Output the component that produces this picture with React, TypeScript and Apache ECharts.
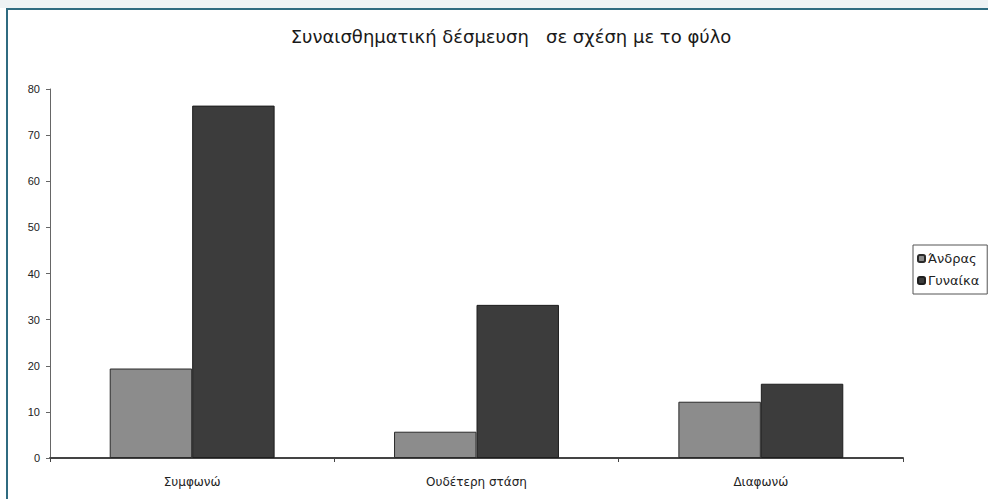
import React, { useEffect, useRef } from "react";
import * as echarts from "echarts";

const title = "Συναισθηματική δέσμευση   σε σχέση με το φύλο";
const categories = ["Συμφωνώ", "Ουδέτερη στάση", "Διαφωνώ"];
const seriesNames = ["Άνδρας", "Γυναίκα"];
const men = [19.4, 5.7, 12.2];
const women = [76.4, 33.2, 16.1];
const yTicks = { min: 0, max: 80, interval: 10 };

const FONT = "'Liberation Sans', Arial, sans-serif";
const WIDE = "'DejaVu Sans', sans-serif";

export default function App() {
  const ref = useRef<HTMLDivElement>(null);

  useEffect(() => {
    if (!ref.current) return;
    const chart = echarts.init(ref.current, null, { renderer: "svg" });
    chart.setOption({
      animation: false,
      backgroundColor: "#ffffff",
      textStyle: { fontFamily: FONT },
      title: {
        text: title,
        left: 506,
        top: 22,
        textAlign: "center",
        textStyle: { fontSize: 18, fontWeight: "normal", color: "#1a1a1a", fontFamily: WIDE },
      },
      graphic: [
        // strip above the frame
        { type: "rect", shape: { x: 0, y: 0, width: 988, height: 8 }, style: { fill: "#eef2f4" }, silent: true },
        // frame top and left edges
        { type: "rect", shape: { x: 6, y: 8, width: 982, height: 2 }, style: { fill: "#2f6b80" }, silent: true },
        { type: "rect", shape: { x: 6, y: 8, width: 2, height: 491 }, style: { fill: "#2f6b80" }, silent: true },
      ],
      legend: {
        orient: "vertical",
        left: 913,
        top: 245,
        padding: [7, 8, 7, 4],
        itemGap: 9,
        itemWidth: 7,
        itemHeight: 7,
        borderColor: "#555",
        borderWidth: 1,
        data: seriesNames,
        textStyle: { fontSize: 13, color: "#222", fontFamily: WIDE, padding: [0, 0, 0, -2] },
      },
      grid: { left: 50, right: 85, top: 89, bottom: 41, containLabel: false },
      xAxis: {
        type: "category",
        data: categories,
        axisLine: { lineStyle: { color: "#444", width: 2 } },
        axisTick: { show: true, length: 4, lineStyle: { color: "#444" } },
        axisLabel: { fontSize: 12, color: "#222", margin: 18, fontFamily: WIDE },
      },
      yAxis: {
        type: "value",
        min: yTicks.min,
        max: yTicks.max,
        interval: yTicks.interval,
        splitLine: { show: false },
        axisLine: { show: true, lineStyle: { color: "#666", width: 1 } },
        axisTick: { show: true, length: 4, lineStyle: { color: "#666" } },
        axisLabel: { fontSize: 11, color: "#222", margin: 10, fontFamily: FONT },
      },
      series: [
        {
          name: seriesNames[0],
          type: "bar",
          data: men,
          barGap: "0%",
          barCategoryGap: "42%",
          itemStyle: { color: "#8c8c8c", borderColor: "#2a2a2a", borderWidth: 1 },
        },
        {
          name: seriesNames[1],
          type: "bar",
          data: women,
          barGap: "0%",
          barCategoryGap: "42%",
          itemStyle: { color: "#3c3c3c", borderColor: "#1e1e1e", borderWidth: 1 },
        },
      ],
    });
    return () => chart.dispose();
  }, []);

  return (
    <div
      ref={ref}
      style={{ position: "absolute", left: 0, top: 0, width: 988, height: 499 }}
    />
  );
}
